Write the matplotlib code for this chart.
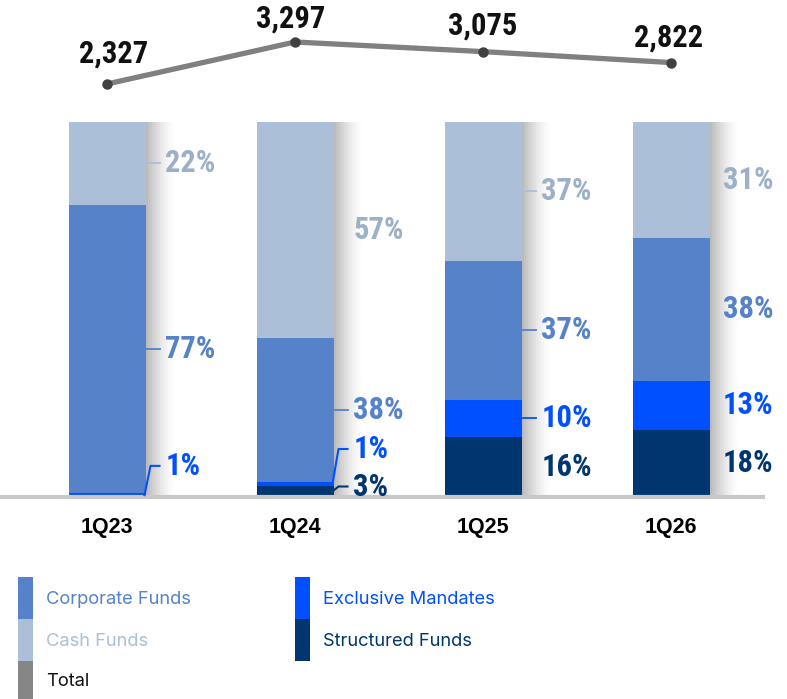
import matplotlib
matplotlib.use("Agg")
import matplotlib.pyplot as plt
from matplotlib.patches import Rectangle
import numpy as np

quarters = ["1Q23", "1Q24", "1Q25", "1Q26"]
total = [2327, 3297, 3075, 2822]
structured = [0, 3, 16, 18]
exclusive = [1, 1, 10, 13]
corporate = [77, 38, 37, 38]
cash = [22, 57, 37, 31]

series_names = ["Structured Funds", "Exclusive Mandates", "Corporate Funds", "Cash Funds"]
bar_colors = ["#003670", "#0050FF", "#5582C8", "#ABBFD8"]
label_colors = ["#003670", "#0050FF", "#5582C8", "#9CB0C8"]

W, H = 787, 699
cond = ["Liberation Sans Narrow", "Roboto Condensed", "DejaVu Sans"]

fig = plt.figure(figsize=(W / 100, H / 100), dpi=100)

def fx(px):
    return px / W

def fy(py):
    return 1 - py / H

spacing = 188.0  # px between bar centres
x0 = 107.0       # px of first bar centre
ax = fig.add_axes([0, fy(497), fx(765), 375 / H])
ax.set_xlim(-x0 / spacing, (765 - x0) / spacing)
ax.set_ylim(0, 100)
ax.axis("off")

x = np.arange(len(quarters))
width = 77 / spacing
px = 1 / spacing

data = np.array([structured, exclusive, corporate, cash], dtype=float)
shares = data / data.sum(axis=0) * 100
bottoms = np.vstack([np.zeros(len(quarters)), np.cumsum(shares, axis=0)[:-1]])

# shadow to the right of each bar
for k in range(14):
    ax.bar(x + width / 2 + (k + 0.5) * 2 * px, 100, 2 * px,
           color="#B0B0B0", alpha=0.85 * (1 - k / 14) ** 1.5, linewidth=0, zorder=1)

for s in range(4):
    ax.bar(x, shares[s], width, bottom=bottoms[s], color=bar_colors[s],
           linewidth=0, zorder=2)

# baseline
ax.plot([-x0 / spacing, (765 - x0) / spacing], [0, 0], color="#C8C8C8",
        lw=3, zorder=3, clip_on=False, solid_capstyle="butt")

# label positions: segment centre unless moved  (key = (series, quarter))
moved = {(1, 0): 8.3, (0, 1): 2.8, (1, 1): 12.8}
no_leader = {(0, 3), (1, 3), (2, 3), (3, 3), (0, 2), (3, 1)}
for i in range(len(quarters)):
    right = x[i] + width / 2
    gap = 20 if i < 3 else 13
    for s in range(4):
        v = data[s, i]
        if v == 0:
            continue
        centre = bottoms[s, i] + shares[s, i] / 2
        ly = moved.get((s, i), centre)
        lc = bar_colors[s] if s == 3 else label_colors[s]
        if (s, i) in moved:
            ax.plot([right - 1 * px, right + 5 * px, right + 14 * px],
                    [centre, ly, ly],
                    color=lc, lw=1.5, zorder=4, clip_on=False)
        elif (s, i) not in no_leader:
            ax.plot([right + 1 * px, right + 14 * px], [ly, ly],
                    color=lc, lw=1.3, zorder=4, clip_on=False)
        ax.text(right + gap * px, ly, f"{v:.0f}%", color=label_colors[s],
                fontsize=22, fontweight="bold", family=cond,
                ha="left", va="center", zorder=5)

# category labels
for i, q in enumerate(quarters):
    ax.text(x[i], -8.2, q, ha="center", va="center", fontsize=15.5,
            fontweight="bold", family=["Liberation Sans", "DejaVu Sans"])

# total line
axl = fig.add_axes([0, fy(122), fx(765), 122 / H])
axl.set_xlim(ax.get_xlim())
axl.set_ylim(1449, 4267)
axl.axis("off")
axl.plot(x, total, color="#808080", lw=3.8, zorder=2, solid_capstyle="round")
axl.plot(x, total, "o", color="#404040", ms=6.5, zorder=3)
label_offsets = [(5, 11), (-3, 6), (0, 8), (-2, 7)]
for i, t in enumerate(total):
    axl.annotate(f"{t:,}", (x[i], t), xytext=label_offsets[i],
                 textcoords="offset points", ha="center", va="bottom",
                 fontsize=22, fontweight="bold", family=cond, color="#111111")

# legend
legend_items = [
    ("Corporate Funds", "#5582C8", "#5582C8", 18, 577, 619),
    ("Cash Funds", "#ABBFD8", "#ABBFD8", 18, 619, 661),
    ("Total", "#868686", "#111111", 18, 661, 699),
    ("Exclusive Mandates", "#0050FF", "#0050FF", 295, 577, 619),
    ("Structured Funds", "#003670", "#003670", 295, 619, 661),
]
for name, c, tc, lx, top, bot in legend_items:
    fig.patches.append(Rectangle((fx(lx), fy(bot)), 15 / W, (bot - top) / H,
                                 transform=fig.transFigure, color=c, lw=0))
    fig.text(fx(lx + 28), fy((top + bot) / 2 + 1), name, color=tc,
             fontsize=13.2, va="center", ha="left",
             family=["Inter", "DejaVu Sans"])

fig.savefig("out.png", dpi=100)
